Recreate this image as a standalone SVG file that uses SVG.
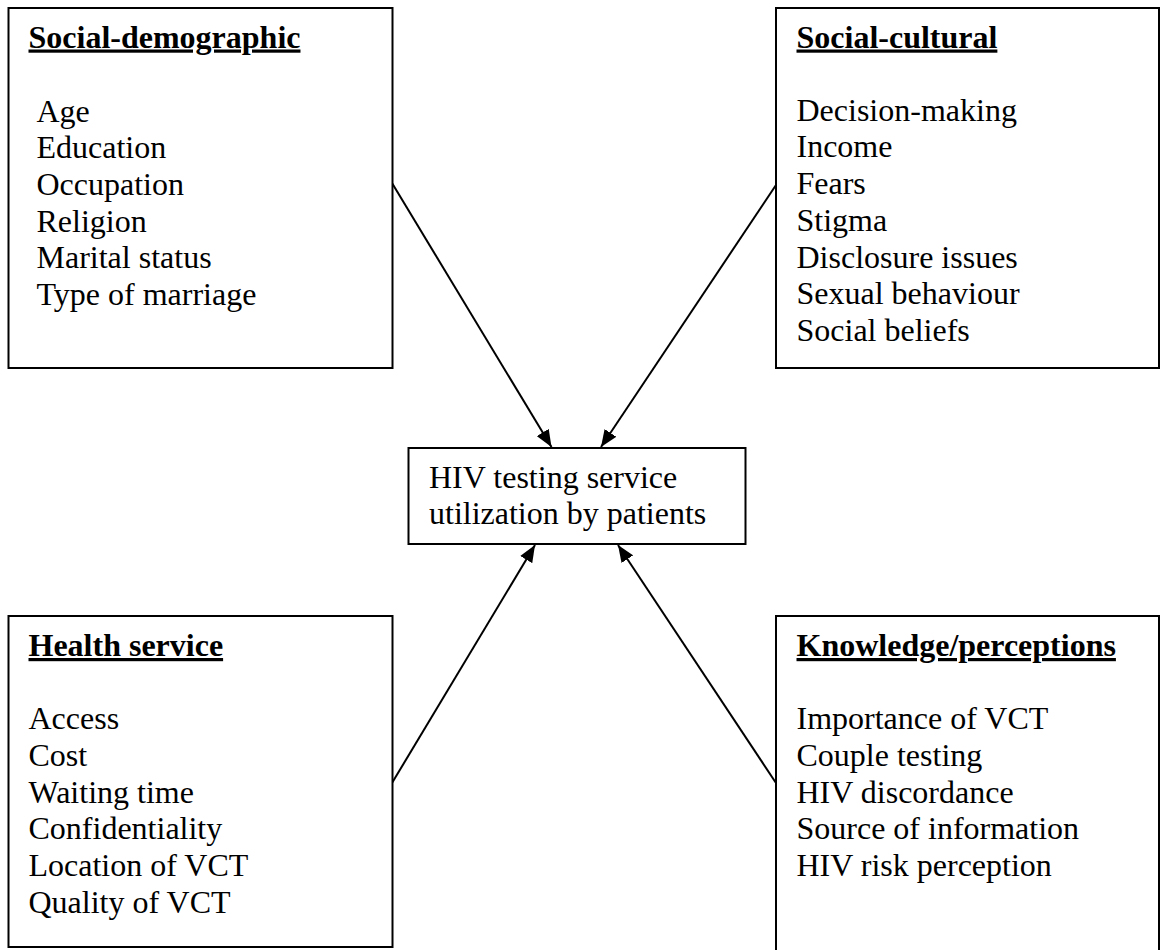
<svg xmlns="http://www.w3.org/2000/svg" width="1160" height="950" viewBox="0 0 1160 950">
<style>
  .box { fill: #fff; stroke: #000; stroke-width: 2; }
  .t { font-family: "Liberation Serif", "Times New Roman", serif; font-size: 32px; fill: #000; }
  .h { font-weight: bold; text-decoration: underline; }
  .c { stroke: #000; stroke-width: 2; fill: none; marker-end: url(#arr); }
</style>
<defs>
  <marker id="arr" markerUnits="userSpaceOnUse" markerWidth="18" markerHeight="14" refX="17" refY="7" orient="auto">
    <path d="M0,0 L17,7 L0,14 z" fill="#000"/>
  </marker>
</defs>
<rect width="1160" height="950" fill="#fff"/>
<g id="connectors">
  <line class="c" x1="392" y1="183" x2="551.5" y2="447"/>
  <line class="c" x1="776" y1="185" x2="601" y2="447"/>
  <line class="c" x1="392" y1="783" x2="535" y2="545"/>
  <line class="c" x1="776" y1="783" x2="618" y2="545"/>
</g>
<g id="social-demographic">
  <rect class="box" x="8.5" y="8" width="384" height="360"/>
  <text class="t h" x="28.5" y="47.5">Social-demographic</text>
  <text class="t" x="36.5" y="121.5">Age</text>
  <text class="t" x="36.5" y="158.2">Education</text>
  <text class="t" x="36.5" y="194.9">Occupation</text>
  <text class="t" x="36.5" y="231.6">Religion</text>
  <text class="t" x="36.5" y="268.3">Marital status</text>
  <text class="t" x="36.5" y="305">Type of marriage</text>
</g>
<g id="social-cultural">
  <rect class="box" x="776" y="8" width="383" height="360"/>
  <text class="t h" x="796.5" y="47.5">Social-cultural</text>
  <text class="t" x="796.5" y="120.7">Decision-making</text>
  <text class="t" x="796.5" y="157.4">Income</text>
  <text class="t" x="796.5" y="194.1">Fears</text>
  <text class="t" x="796.5" y="230.8">Stigma</text>
  <text class="t" x="796.5" y="267.5">Disclosure issues</text>
  <text class="t" x="796.5" y="304.2">Sexual behaviour</text>
  <text class="t" x="796.5" y="340.9">Social beliefs</text>
</g>
<g id="hiv-testing">
  <rect class="box" x="408.5" y="448" width="337" height="96"/>
  <text class="t" x="429" y="487.7">HIV testing service</text>
  <text class="t" x="429" y="524.3">utilization by patients</text>
</g>
<g id="health-service">
  <rect class="box" x="8.5" y="616" width="384" height="331"/>
  <text class="t h" x="28.5" y="656">Health service</text>
  <text class="t" x="28.5" y="729.3">Access</text>
  <text class="t" x="28.5" y="766">Cost</text>
  <text class="t" x="28.5" y="802.7">Waiting time</text>
  <text class="t" x="28.5" y="839.4">Confidentiality</text>
  <text class="t" x="28.5" y="876.1">Location of VCT</text>
  <text class="t" x="28.5" y="912.8">Quality of VCT</text>
</g>
<g id="knowledge-perceptions">
  <rect class="box" x="776" y="616" width="383" height="345"/>
  <text class="t h" x="796.5" y="656">Knowledge/perceptions</text>
  <text class="t" x="796.5" y="729.3">Importance of VCT</text>
  <text class="t" x="796.5" y="766">Couple testing</text>
  <text class="t" x="796.5" y="802.7">HIV discordance</text>
  <text class="t" x="796.5" y="839.4">Source of information</text>
  <text class="t" x="796.5" y="876.1">HIV risk perception</text>
</g>
</svg>
